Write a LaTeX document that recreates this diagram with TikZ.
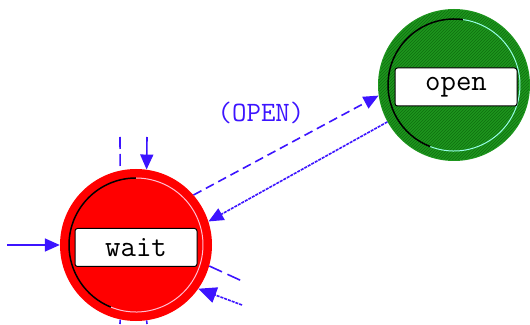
\documentclass[tikz,border=0pt]{standalone}
\usepackage{fontspec}
\usetikzlibrary{arrows.meta,patterns}
\definecolor{edgeblue}{RGB}{60,20,255}
\definecolor{stred}{RGB}{255,0,0}
\definecolor{stgreen}{RGB}{30,150,30}
\definecolor{hatchgreen}{RGB}{15,110,15}
\definecolor{rimpink}{RGB}{255,190,210}
\definecolor{rimcyan}{RGB}{150,255,230}
\begin{document}
\begin{tikzpicture}[x=1pt,y=1pt,
  state/.style={circle,minimum size=152pt,inner sep=0pt},
  lbl/.style={draw=black,fill=white,rounded corners=2.5pt,line width=1pt,
    minimum width=122pt,minimum height=38pt,inner sep=0pt,
    font=\ttfamily\fontsize{30}{30}\selectfont},
  conn/.style={draw=edgeblue,line width=1.6pt},
  tip/.style={-{Triangle[length=15pt,width=13pt]}},
  longdash/.style={dash pattern=on 9pt off 5pt},
  finedash/.style={dash pattern=on 3pt off 1pt}]
\useasboundingbox (0,0) rectangle (530,324);
% states
\node[state,fill=stred] (wait) at (136,79) {};
\node[state,fill=stgreen] (open) at (454,239) {};
\fill[pattern=north east lines,pattern color=hatchgreen] (open.center) circle (75pt);
% bevel rims
\draw[black,line width=1.5pt] (wait.center) ++(90:67) arc (90:248:67);
\draw[rimpink,line width=1pt] (wait.center) ++(248:67) arc (248:450:67);
\draw[black,line width=1.5pt] (open.center) ++(82:66) arc (82:249:66);
\draw[rimcyan,line width=1pt] (open.center) ++(249:66) arc (249:442:66);
% labels
\node[lbl] (waitlbl) at (136,76.5) {wait};
\node[lbl] (openlbl) at (456,237) {open};
% transitions between states
\draw[conn,longdash,tip] (wait.41) -- (open.188);
\draw[conn,finedash,tip] (open.209) -- (wait.18);
\node[text=edgeblue,font=\ttfamily\fontsize{28}{28}\selectfont] (evlbl) at (261,211) {(OPEN)};
% stubs
\coordinate (t1) at (120,187);
\coordinate (t2) at (147,187);
\coordinate (l1) at (7,79);
\coordinate (b1) at (242,43);
\coordinate (b2) at (242,19);
\coordinate (d1) at (120,0);
\coordinate (d2) at (147,0);
\draw[conn,dash pattern=on 12pt off 5pt] (t1) -- (wait.102);
\draw[conn,tip] (t2) -- (wait.82);
\draw[conn,tip] (l1) -- (wait.west);
\draw[conn,dash pattern=on 14pt off 6pt] (wait.-16) -- (b1);
\draw[conn,finedash,-{Triangle[length=18pt,width=16pt]}] (b2) -- (wait.-35);
\draw[conn] (wait.-102) -- (d1);
\draw[conn] (wait.-82) -- (d2);
\end{tikzpicture}
\end{document}
